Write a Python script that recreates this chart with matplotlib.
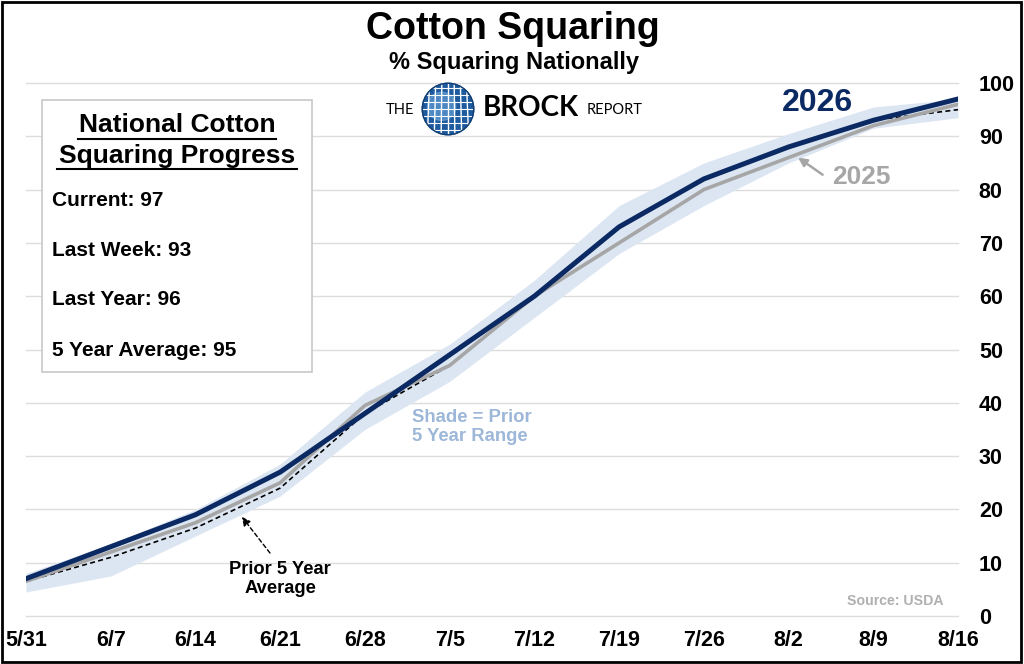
import matplotlib
matplotlib.use("Agg")
import matplotlib.pyplot as plt
import numpy as np
from matplotlib.patches import Circle, Rectangle

plt.rcParams['font.family'] = ['Liberation Sans', 'DejaVu Sans']

# ---------------- data ----------------
week_labels = ["5/31", "6/7", "6/14", "6/21", "6/28", "7/5", "7/12",
               "7/19", "7/26", "8/2", "8/9", "8/16"]
days = [0, 7, 14, 21, 28, 35, 42, 49, 56, 63, 70, 77]
y2026 = [7, 13, 19, 27, 38, 49, 60, 73, 82, 88, 93, 97]
y2025 = [6.5, 12, 17.5, 25, 39.5, 47, 60, 70, 80, 86, 92, 96]
avg5 = [6.5, 11, 16.5, 24, 38, 47, 60, 73, 82, 88, 93, 95]
range_low = [4.5, 7.5, 15, 22.5, 35, 44, 56, 68, 77, 85, 91.5, 93.5]
range_high = [8, 13.5, 20, 28.5, 42, 51, 63, 77, 85, 90.5, 95.5, 97]
y_ticks = [0, 10, 20, 30, 40, 50, 60, 70, 80, 90, 100]
box_lines = ["Current: 97", "Last Week: 93", "Last Year: 96", "5 Year Average: 95"]

W, H = 1024, 664
fig = plt.figure(figsize=(W / 100, H / 100), dpi=100)

def fx(px):
    return px / W

def fy(py):
    return 1 - py / H

# ---------------- main axes ----------------
ax = fig.add_axes([fx(26), fy(616), fx(958) - fx(26), fy(83) - fy(616)])
ax.set_xlim(days[0], days[-1])
ax.set_ylim(0, 100)
for s in ax.spines.values():
    s.set_visible(False)
ax.yaxis.tick_right()
ax.set_yticks(y_ticks)
ax.set_yticklabels([str(v) for v in y_ticks], fontsize=15.5, fontweight='bold')
ax.set_xticks(days)
ax.set_xticklabels(week_labels, fontsize=15.5, fontweight='bold')
ax.tick_params(axis='both', length=0)
ax.tick_params(axis='y', pad=15)
ax.tick_params(axis='x', pad=10)
ax.grid(axis='y', color='#dcdcdc', linewidth=1.0)
for gl in ax.get_ygridlines():
    gl.set_clip_on(False)
ax.set_axisbelow(True)

ax.fill_between(days, range_low, range_high, color='#dce6f2', linewidth=0, zorder=1)
ax.plot(days, avg5, color='black', linestyle=(0, (3, 2)), linewidth=1.2, zorder=3)
ax.plot(days, y2025, color='#a6a6a6', linewidth=2.6, zorder=4)
ax.plot(days, y2026, color='#0b2a63', linewidth=3.6, zorder=5)

# annotations in data coords
ax.text(65.4, 96.2, "2026", color='#0b2a63', fontsize=23, fontweight='bold',
        ha='center', va='center')
ax.text(69.0, 82.3, "2025", color='#a6a6a6', fontsize=19, fontweight='bold',
        ha='center', va='center')
ax.annotate("", xy=(63.6, 86.3), xytext=(66.0, 82.5),
            arrowprops=dict(arrowstyle='-|>,head_length=0.5,head_width=0.25',
                            color='#a6a6a6', lw=1.8))
ax.text(21.0, 7.0, "Prior 5 Year\nAverage", color='black', fontsize=13.2,
        fontweight='bold', ha='center', va='center', linespacing=1.15)
ax.annotate("", xy=(17.7, 19.0), xytext=(20.3, 11.4),
            arrowprops=dict(arrowstyle='-|>,head_length=0.5,head_width=0.25',
                            color='black', lw=1.0, linestyle=(0, (3, 2))))
ax.text(31.9, 35.5, "Shade = Prior\n5 Year Range", color='#9db7d8', fontsize=13.3,
        fontweight='bold', ha='left', va='center', linespacing=1.15)
ax.text(71.85, 2.9, "Source: USDA", color='#b0b0b0', fontsize=10.2,
        fontweight='bold', ha='center', va='center')

# ---------------- titles ----------------
fig.text(fx(513), fy(29), "Cotton Squaring", fontsize=27, fontweight='bold',
         ha='center', va='center')
fig.text(fx(514), fy(63), "% Squaring Nationally", fontsize=17, fontweight='bold',
         ha='center', va='center')

# logo
fig.text(fx(400), fy(110), "THE", fontsize=10.5, ha='center', va='center',
         family=['Lato', 'DejaVu Sans'])
fig.text(fx(531), fy(108), "BROCK", fontsize=20, ha='center', va='center',
         family=['Lato', 'DejaVu Sans'], fontweight='bold')
fig.text(fx(615), fy(110), "REPORT", fontsize=10.5, ha='center', va='center',
         family=['Lato', 'DejaVu Sans'])
gax = fig.add_axes([fx(421), fy(136), fx(475) - fx(421), fy(82) - fy(136)])
gax.set_xlim(-1.05, 1.05)
gax.set_ylim(-1.05, 1.05)
gax.set_aspect('equal')
gax.axis('off')
globe = Circle((0, 0), 1, color='#1d5a9e', zorder=1)
gax.add_patch(globe)
hl = Circle((-0.25, 0.1), 0.55, color='#6fa8dc', alpha=0.6, zorder=2)
gax.add_patch(hl)
hl.set_clip_path(globe)
for v in np.linspace(-0.8, 0.8, 7):
    l1, = gax.plot([v, v * 0.9], [-1, 1], color='white', lw=1.0, zorder=3)
    l1.set_clip_path(globe)
    l2, = gax.plot([-1, 1], [v, v], color='white', lw=0.8, zorder=3)
    l2.set_clip_path(globe)
ring = Circle((0, 0), 1, fill=False, edgecolor='#123e73', lw=1.0, zorder=4)
gax.add_patch(ring)

# ---------------- info box ----------------
box = Rectangle((fx(42), fy(372)), fx(312) - fx(42), fy(100) - fy(372),
                transform=fig.transFigure, facecolor='white', edgecolor='#c8c8c8',
                lw=1.2, zorder=10)
fig.patches.append(box)
fig.text(fx(177), fy(125), "National Cotton", fontsize=19, fontweight='bold',
         ha='center', va='center', zorder=11)
fig.text(fx(177), fy(156), "Squaring Progress", fontsize=19, fontweight='bold',
         ha='center', va='center', zorder=11)
# underlines
fig.add_artist(plt.Line2D([fx(78), fx(276)], [fy(139), fy(139)], color='black',
                          lw=1.5, transform=fig.transFigure, zorder=11))
fig.add_artist(plt.Line2D([fx(57), fx(297)], [fy(169), fy(169)], color='black',
                          lw=1.5, transform=fig.transFigure, zorder=11))
for txt, py in zip(box_lines, [201, 250, 299, 350]):
    fig.text(fx(52), fy(py), txt, fontsize=15, fontweight='bold', ha='left',
             va='center', zorder=11)

# outer frame
fig.patches.append(Rectangle((0.002, 0.003), 0.995, 0.994, transform=fig.transFigure,
                             fill=False, edgecolor='black', lw=2.0, zorder=20))

fig.savefig("out.png", dpi=100, facecolor='white')
